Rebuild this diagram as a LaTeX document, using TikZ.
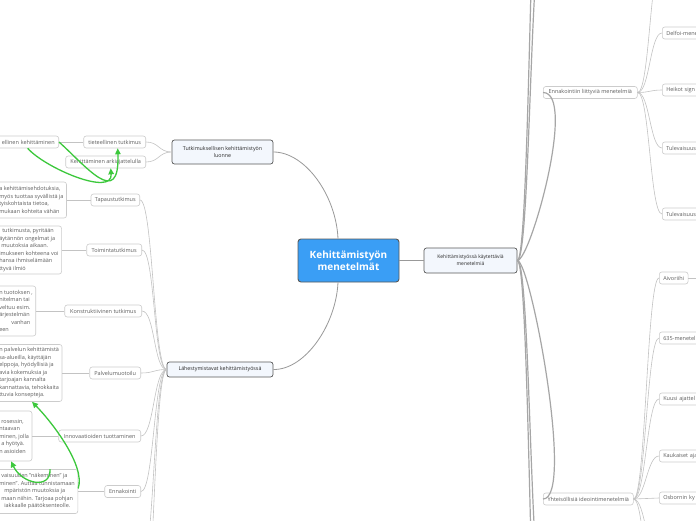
\documentclass[tikz,border=0pt]{standalone}
\usepackage{fontspec}
\setmainfont{Open Sans}
\usetikzlibrary{arrows.meta}

\definecolor{mapblue}{RGB}{58,158,245}
\definecolor{subfill}{RGB}{243,247,253}
\definecolor{relgreen}{RGB}{60,200,60}
\definecolor{textgray}{RGB}{95,95,95}
\definecolor{linegray}{RGB}{195,195,195}

\begin{document}
\begin{tikzpicture}[
    x=1pt, y=-1pt,
    central/.style={rectangle, rounded corners=3pt, draw=black!65, line width=0.9pt, fill=mapblue, text=white, font=\fontsize{10}{12.5}\selectfont\bfseries, align=center, minimum width=101pt, minimum height=43pt},
    sub/.style={rectangle, rounded corners=2.5pt, draw=black!65, line width=0.7pt, fill=subfill, text=black!85, font=\fontsize{5.3}{7}\selectfont, align=center, inner xsep=3pt, inner ysep=2pt},
    leaf/.style={rectangle, rounded corners=2.5pt, draw=black!20, line width=0.6pt, fill=white, text=textgray, font=\fontsize{5.5}{7.5}\selectfont, minimum height=12pt, inner xsep=4pt, inner ysep=1pt},
    desc/.style={leaf, align=left, inner xsep=3pt, anchor=west},
    cut/.style={leaf, text width=#1, align=left},
    link/.style={draw=linegray, line width=0.6pt},
    branch/.style={draw=black!40, line width=0.8pt},
    trunk/.style={draw=black!35, line width=1.2pt},
    rel/.style={draw=relgreen, line width=1.3pt, -{Triangle[length=6pt, width=5.5pt]}},
]
\useasboundingbox (0,0) rectangle (696,520);
\clip (0,0) rectangle (696,520);
\fill[white] (0,0) rectangle (696,520);

% Main topics
\node[central] (cen) at (348.5,260.5) {Kehittämistyön\\menetelmät};
\node[sub, minimum width=101pt, minimum height=24pt] (luonne) at (222.5,152) {Tutkimuksellisen kehittämistyön\\luonne};
\node[sub, minimum width=106pt, minimum height=15pt] (lahest) at (220,369.5) {Lähestymistavat kehittämistyössä};
\node[sub, minimum width=93pt, minimum height=25pt, font=\fontsize{5}{7}\selectfont] (kmm) at (470.5,260.5) {Kehittämistyössä käytettäviä\\menetelmiä};

\draw[branch] (luonne.east) .. controls (305,152) and (336,195) .. ([xshift=-10.5pt]cen.north);
\draw[branch] (lahest.east) .. controls (305,370) and (336,325) .. ([xshift=-10.5pt]cen.south);
\draw[branch] (cen.east) -- (kmm.west);

% --- Tutkimuksellisen kehittämistyön luonne ---
\node[leaf, anchor=east, minimum width=62pt] (tiet) at (146,142) {tieteellinen tutkimus};
\node[leaf, anchor=east, minimum width=80pt] (arki) at (146,162) {Kehittäminen arkiajattelulla};
\node[leaf, anchor=east, text width=58pt, align=right] (tutk) at (59,142) {ellinen kehittäminen};

\draw[link] (luonne.west) .. controls +(-13,0) and +(13,0) .. (tiet.east);
\draw[link] (luonne.west) .. controls +(-13,0) and +(13,0) .. (arki.east);
\draw[link] (tiet.west) -- (tutk.east);

% --- Lähestymistavat kehittämistyössä ---
\node[leaf, anchor=east, minimum width=48pt] (tapaus) at (140,200) {Tapaustutkimus};
\node[leaf, anchor=east, minimum width=55pt] (toim) at (142,250) {Toimintatutkimus};
\node[leaf, anchor=east, minimum width=77pt] (konstr) at (142,311) {Konstruktiivinen tutkimus};
\node[leaf, anchor=east, minimum width=51pt] (palv) at (141,373) {Palvelumuotoilu};
\node[leaf, anchor=east, minimum width=82pt] (innov) at (141,436) {Innovaatioiden tuottaminen};
\node[leaf, anchor=east, minimum width=36pt] (ennak) at (141,491.5) {Ennakointi};
\coordinate (lahDn1) at (141,570);
\coordinate (lahDn2) at (141,640);

\foreach \n in {tapaus,toim,konstr,palv,innov,ennak}
  \draw[link] (lahest.west) .. controls +(-13,0) and +(13,0) .. (\n.east);
\draw[link] (lahest.west) .. controls +(-13,0) and +(13,0) .. (lahDn1);
\draw[link] (lahest.west) .. controls +(-13,0) and +(13,0) .. (lahDn2);

\node[desc, minimum height=36pt] (tapausD) at (-4,200) {a kehittämisehdotuksia,\\myös tuottaa syvällistä ja\\tyiskohtaista tietoa,\\mukaan kohteita vähän};
\node[desc, minimum height=48pt] (toimD) at (-4,250) {\hspace*{3pt}tutkimusta, pyritään\\äytännön ongelmat ja\\\hspace*{2pt}muutoksia aikaan.\\imukseen kohteena voi\\hansa ihmiselämään\\ttyvä ilmiö};
\node[desc, minimum height=50pt] (konstrD) at (-4,311) {n tuotoksen ,\\nitelman tai\\veltuu esim.\\ärjestelmän\\\hspace*{12pt}vanhan\\een};
\node[desc, minimum height=57pt] (palvD) at (-4,373) {n palvelun kehittämistä\\sa-alueilla, käyttäjän\\elppoja, hyödyllisiä ja\\avia kokemuksia ja\\tarjoajan kannalta\\kannattavia, tehokkaita\\ttuvia konsepteja.};
\node[desc, minimum height=50pt] (innovD) at (-4,436) {\hspace*{2pt}rosessin,\\ntaavan\\minen, jolla\\\hspace*{2pt}a hyötyä.\\n asioiden};
\node[desc, minimum height=44pt] (ennakD) at (-4,491.5) {\hspace*{2pt}vaisuuden "näkeminen" ja\\minen". Auttaa tunnistamaan\\\hspace*{5pt}mpäristön muutoksia ja\\\hspace*{2pt}maan niihin. Tarjoaa pohjan\\\hspace*{5pt}iakkaalle päätöksenteolle.};

\draw[link] (tapaus.west) -- (tapausD.east);
\draw[link] (toim.west) -- (toimD.east);
\draw[link] (konstr.west) -- (konstrD.east);
\draw[link] (palv.west) -- (palvD.east);
\draw[link] (innov.west) -- (innovD.east);
\draw[link] (ennak.west) -- (ennakD.east);

% --- Kehittämistyössä käytettäviä menetelmiä ---
\node[leaf, anchor=west, minimum width=94pt] (enn) at (543,92.5) {Ennakointiin liittyviä menetelmiä};
\node[leaf, anchor=west, minimum width=90pt] (yht) at (543,499) {Yhteisöllisiä ideointimenetelmiä};
\coordinate (kmmUp1) at (543,-70);
\coordinate (kmmUp2) at (543,-220);
\coordinate (kmmDn1) at (543,600);
\coordinate (kmmDn2) at (543,760);

\foreach \n in {enn,yht,kmmUp1,kmmUp2,kmmDn1,kmmDn2}
  \draw[trunk] (kmm.east) .. controls +(13,0) and +(-13,0) .. (\n);

% Ennakointiin liittyviä menetelmiä
\node[cut=50pt, anchor=west] (delf) at (662,33) {Delfoi-mene};
\node[cut=50pt, anchor=west] (heik) at (662,90) {Heikot sign};
\node[cut=50pt, anchor=west] (tul1) at (662,148) {Tulevaisuus};
\node[cut=50pt, anchor=west] (tul2) at (662,214) {Tulevaisuus};
\coordinate (ennUp) at (662,-40);

\foreach \n in {delf,heik,tul1,tul2}
  \draw[link] (enn.east) .. controls +(12,0) and +(-12,0) .. (\n.west);
\draw[link] (enn.east) .. controls +(12,0) and +(-12,0) .. (ennUp);

% Yhteisöllisiä ideointimenetelmiä
\node[leaf, anchor=west, minimum width=28pt] (aivo) at (659,278) {Aivoriihi};
\node[cut=50pt, anchor=west] (mk635) at (659,338) {635-menetel};
\node[cut=50pt, anchor=west] (kuusi) at (659,399) {Kuusi ajattel};
\node[cut=50pt, anchor=west] (kauk) at (659,456) {Kaukaiset aja};
\node[cut=50pt, anchor=west] (osb) at (659,498) {Osbornin ky};
\coordinate (aivoR) at (710,278);
\coordinate (yhtDn1) at (659,560);
\coordinate (yhtDn2) at (659,640);

\foreach \n in {aivo,mk635,kuusi,kauk,osb}
  \draw[link] (yht.east) .. controls +(12,0) and +(-12,0) .. (\n.west);
\draw[link] (yht.east) .. controls +(12,0) and +(-12,0) .. (yhtDn1);
\draw[link] (yht.east) .. controls +(12,0) and +(-12,0) .. (yhtDn2);
\draw[link] (aivo.east) -- (aivoR);

% Relationships
\draw[rel] (tutk.east) .. controls (85,165) and (120,210) .. ([xshift=3pt]tiet.south);
\draw[rel] ([xshift=2pt]tutk.south) .. controls (45,168) and (113,197) .. ([xshift=5pt]arki.south);
\draw[rel] ([yshift=3pt]ennakD.east) .. controls (86,465) and (50,420) .. ([xshift=36pt]palvD.south west);
\draw[rel] ([xshift=54pt]ennakD.north west) .. controls (51,490) and (22,484) .. ([xshift=15pt]innovD.south west);

\end{tikzpicture}
\end{document}
